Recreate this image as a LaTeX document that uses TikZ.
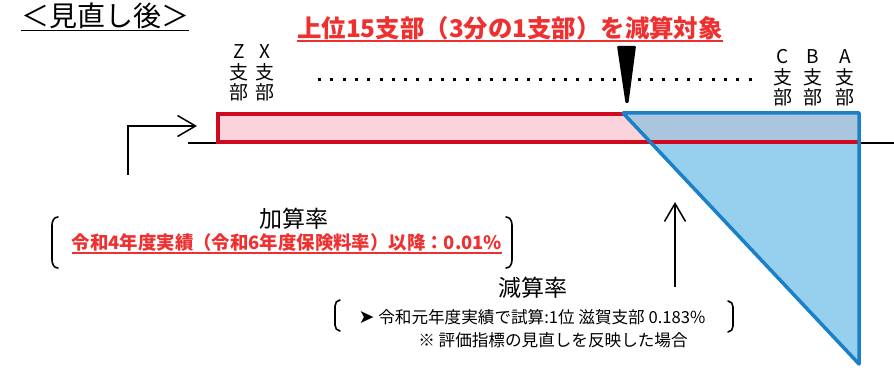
\documentclass[tikz,border=0pt]{standalone}
\usepackage{fontspec}
\usepackage{tikz}
\usetikzlibrary{arrows.meta,positioning}
\newfontfamily\jpfont{Noto Sans CJK JP}
\newfontfamily\symfont{DejaVu Sans}
\definecolor{redtext}{RGB}{238,48,48}
\definecolor{barred}{RGB}{205,10,30}
\definecolor{barpink}{RGB}{250,212,218}
\definecolor{cutblue}{RGB}{150,208,238}
\definecolor{cutband}{RGB}{170,198,222}
\definecolor{cutline}{RGB}{28,128,200}
\tikzstyle{heading} = [inner sep=0pt, font=\jpfont\fontsize{28}{32}\selectfont]
\tikzstyle{redhead} = [inner sep=0pt, text=redtext, font=\jpfont\bfseries\fontsize{24.4}{28}\selectfont]
\tikzstyle{branch} = [inner sep=0pt, align=center, font=\jpfont\fontsize{19}{20.5}\selectfont]
\tikzstyle{ratename} = [inner sep=0pt, font=\jpfont\fontsize{23}{28}\selectfont]
\tikzstyle{rednote} = [inner sep=0pt, text=redtext, font=\jpfont\bfseries\fontsize{18.4}{22}\selectfont]
\tikzstyle{note} = [inner sep=0pt, font=\jpfont\fontsize{16.6}{20}\selectfont]
\tikzstyle{arrow} = [draw, line width=1.5pt, -{Straight Barb[length=18pt,width=21pt]}]
\tikzstyle{bracket} = [draw, line width=1.6pt, line cap=round]
\tikzstyle{uline} = [draw, line width=1.3pt]
\newcommand{\branch}[2]{node (b#1) [branch] {#2\\支\\部}}

\begin{document}
\begin{tikzpicture}[x=1pt,y=-1pt]
\useasboundingbox (0,0) rectangle (894,371);
\path (105,16) node (head) [heading] {＜見直し後＞};
\path [uline] ([yshift=-1pt]head.south west) -- ([yshift=-1pt]head.south east);
\path (510,28) node (target) [redhead] {上位15支部（3分の1支部）を減算対象};
\path [uline,redtext] ([yshift=-1pt]target.south west) -- ([yshift=-1pt]target.south east);

% branches
\path (239,73) \branch{z}{Z};
\path (265,73) \branch{x}{X};
\path (783,78) \branch{c}{C};
\path (813,78) \branch{b}{B};
\path (845,78) \branch{a}{A};
\draw [dash pattern=on 3pt off 9.3pt, line width=3pt] (318,80) -- (760,80);
\fill [rounded corners=1pt] (617,46) -- (636,46) -- (628.5,103) -- (625.5,103) -- cycle;

% bar and cut
\fill [barpink] (218,114) rectangle (859,142);
\fill [cutblue] (623,113) -- (859,113) -- (859,364) -- cycle;
\fill [cutband] (623,113) -- (859,113) -- (859,142) -- (650,142) -- cycle;
\draw [barred, line width=4pt] (623,114) -- (218,114) -- (218,142) -- (859,142);
\draw [cutline, line width=3.5pt, line join=round] (623,113) -- (859,113) -- (859,364) -- cycle;
\draw [line width=2pt] (188,143) -- (216,143);
\draw [line width=2pt] (861,143) -- (894,143);

\coordinate (lfoot) at (128,175);
\coordinate (ltip) at (197,126);
\path [arrow] (lfoot) |- (ltip);
\coordinate (ufoot) at (675,287);
\coordinate (utip) at (675,202);
\path [arrow] (ufoot) -- (utip);

% rates
\path (294,219) node (add) [ratename] {加算率};
\path (add)+(-7,24) node (addnote) [rednote] {令和4年度実績（令和6年度保険料率）以降：0.01\%};
\path [uline,redtext] ([yshift=-1pt]addnote.south west) -- ([yshift=-1pt]addnote.south east);
\path [bracket] (58,217) to[out=180,in=90] (52,225) -- (52,260) to[out=-90,in=180] (58,268);
\path [bracket] (506,217) to[out=0,in=90] (512,225) -- (512,260) to[out=-90,in=0] (506,268);

\path (533,288) node (sub) [ratename] {減算率};
\path (sub)+(-1,29) node (subnote) [note] {{\symfont\fontsize{19}{20}\selectfont ➤} 令和元年度実績で試算:1位 滋賀支部 0.183\%};
\path (subnote)+(21,23) node (subrem) [note] {※ 評価指標の見直しを反映した場合};
\path [bracket] (340,300) to[out=180,in=90] (335,306) -- (335,325) to[out=-90,in=180] (340,331);
\path [bracket] (728,301) to[out=0,in=90] (733,307) -- (733,326) to[out=-90,in=0] (728,332);
\end{tikzpicture}
\end{document}
